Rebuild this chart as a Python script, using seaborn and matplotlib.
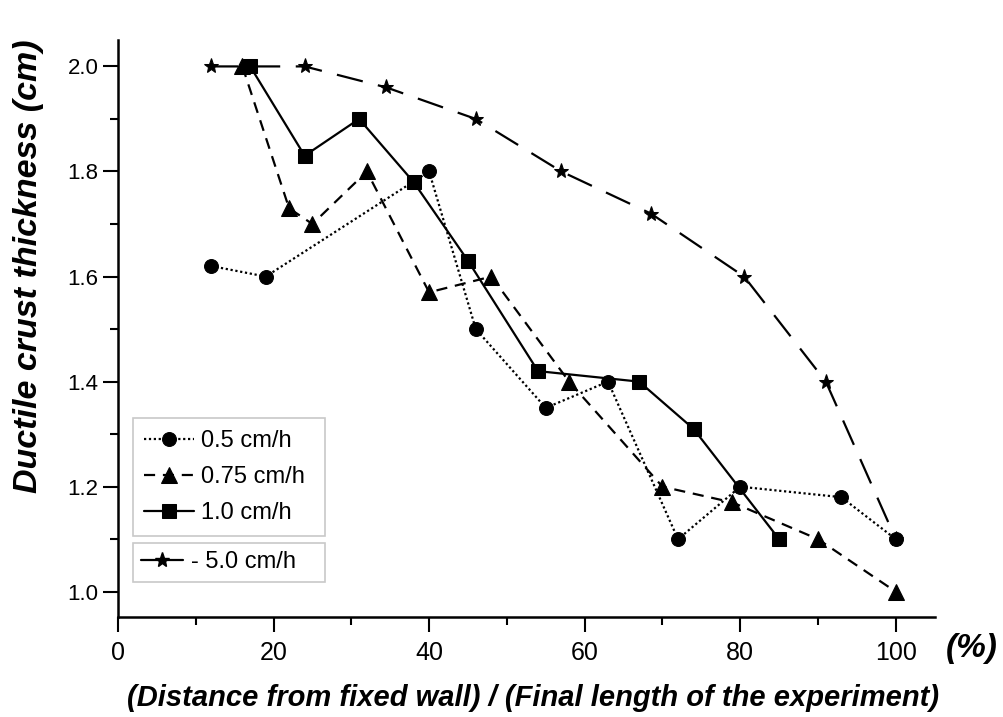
import numpy as np
import matplotlib
matplotlib.use("Agg")
import matplotlib.pyplot as plt
import pandas as pd
import seaborn as sns
from matplotlib.lines import Line2D
from matplotlib.ticker import MultipleLocator

# values
x_05 = [12, 19, 40, 46, 55, 63, 72, 80, 93, 100]
y_05 = [1.62, 1.60, 1.80, 1.50, 1.35, 1.40, 1.10, 1.20, 1.18, 1.10]

x_075 = [16, 22, 25, 32, 40, 48, 58, 70, 79, 90, 100]
y_075 = [2.00, 1.73, 1.70, 1.80, 1.57, 1.60, 1.40, 1.20, 1.17, 1.10, 1.00]

x_10 = [17, 24, 31, 38, 45, 54, 67, 74, 85]
y_10 = [2.00, 1.83, 1.90, 1.78, 1.63, 1.42, 1.40, 1.31, 1.10]

x_50 = [12, 24, 34.5, 46, 57, 68.5, 80.5, 91, 100]
y_50 = [2.00, 2.00, 1.96, 1.90, 1.80, 1.72, 1.60, 1.40, 1.10]

labels = ["0.5 cm/h", "0.75 cm/h", "1.0 cm/h", "- 5.0 cm/h"]
xticks = [0, 20, 40, 60, 80, 100]
yticks = [1.0, 1.2, 1.4, 1.6, 1.8, 2.0]

sns.set_style("ticks")
plt.rcParams['font.family'] = ['Liberation Sans', 'DejaVu Sans']
plt.rcParams.update({'text.color': 'black', 'axes.labelcolor': 'black',
                     'xtick.color': 'black', 'ytick.color': 'black',
                     'axes.edgecolor': 'black'})

fig = plt.figure(figsize=(10.04, 7.17), dpi=100)
ax = fig.add_axes([0.1175, 0.1395, 0.8135, 0.8045])

series = [
    (x_05, y_05, labels[0], 'o', (0, (1, 1.2)), 10),
    (x_075, y_075, labels[1], '^', (0, (5, 3.5)), 11),
    (x_10, y_10, labels[2], 's', '-', 9.5),
    (x_50, y_50, labels[3], '*', (0, (12, 7)), 11),
]
for xs, ys, lab, mk, ls, ms in series:
    d = pd.DataFrame({'x': xs, 'y': ys})
    sns.lineplot(data=d, x='x', y='y', ax=ax, color='black', marker=mk,
                 linestyle=ls, lw=1.6, markersize=ms, markeredgecolor='black',
                 markerfacecolor='black', label=lab, sort=False, legend=False)

ax.set_xlim(0, 105)
ax.set_ylim(0.952, 2.05)
ax.set_xticks(xticks)
ax.set_yticks(yticks)
ax.set_yticklabels([f"{v:.1f}" for v in yticks])
ax.xaxis.set_minor_locator(MultipleLocator(10))
ax.yaxis.set_minor_locator(MultipleLocator(0.1))
ax.tick_params(which='major', length=11, width=1.5, color='black',
               labelcolor='black')
ax.tick_params(which='minor', length=6, width=1.5, color='black')
ax.tick_params(axis='y', labelsize=16, pad=3)
ax.tick_params(axis='x', labelsize=18, pad=6)

for s in ['top', 'right']:
    ax.spines[s].set_visible(False)
for s in ['left', 'bottom']:
    ax.spines[s].set_linewidth(1.8)

ax.set_ylabel("Ductile crust thickness (cm)", fontsize=24.5, fontweight='bold',
              fontstyle='italic')
ax.yaxis.set_label_coords(-0.09, 0.608)
ax.set_xlabel("(Distance from fixed wall) / (Final length of the experiment)",
              fontsize=21, fontweight='bold', fontstyle='italic')
ax.xaxis.set_label_coords(0.5086, -0.116)
ax.text(1.045, -0.054, "(%)", transform=ax.transAxes, fontsize=24,
        fontweight='bold', fontstyle='italic', ha='center', va='center')

handles = ax.get_lines()
leg1 = ax.legend(handles[:3], labels[:3], loc='upper left',
                 bbox_to_anchor=(0.018, 0.345, 0.235, 0), mode='expand',
                 fontsize=17, frameon=True, fancybox=False, edgecolor='#bbbbbb',
                 handlelength=2.1, handletextpad=0.3, borderpad=0.5,
                 labelspacing=0.6, borderaxespad=0)
leg1.get_frame().set_linewidth(1.2)
ax.add_artist(leg1)
star_handle = Line2D([], [], color='black', lw=1.6, ls='-', marker='*',
                     markersize=11)
leg2 = ax.legend([star_handle], labels[3:], loc='upper left',
                 bbox_to_anchor=(0.018, 0.128, 0.235, 0), mode='expand',
                 fontsize=17, frameon=True, fancybox=False, edgecolor='#bbbbbb',
                 handlelength=1.8, handletextpad=0.3, borderpad=0.35,
                 borderaxespad=0)
leg2.get_frame().set_linewidth(1.2)

fig.savefig("out.png", dpi=100, facecolor='white')
